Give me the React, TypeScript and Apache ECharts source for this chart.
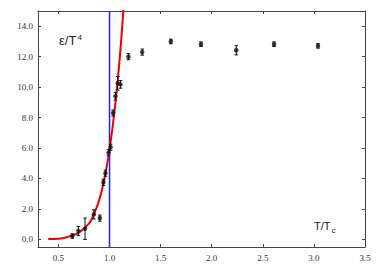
import React, { useEffect, useRef } from "react";
import * as echarts from "echarts";

const xTicks = [0.5, 1.0, 1.5, 2.0, 2.5, 3.0, 3.5];
const yTicks = [0, 2, 4, 6, 8, 10, 12, 14];

const tValues = [0.636, 0.695, 0.76, 0.846, 0.905, 0.94, 0.96, 0.99, 1.01, 1.035, 1.058, 1.08, 1.107, 1.185, 1.32, 1.6, 1.895, 2.24, 2.61, 3.04];
const eValues = [0.22, 0.55, 0.7, 1.64, 1.4, 3.75, 4.35, 5.7, 6.05, 8.3, 9.4, 10.25, 10.18, 12.0, 12.3, 13.0, 12.82, 12.42, 12.82, 12.71];
const eErrors = [0.15, 0.3, 0.7, 0.3, 0.2, 0.2, 0.2, 0.2, 0.2, 0.2, 0.25, 0.45, 0.25, 0.2, 0.2, 0.15, 0.15, 0.3, 0.15, 0.15];

const curveT = [0.4, 0.5, 0.6, 0.7, 0.8, 0.85, 0.9, 0.95, 1.0, 1.05, 1.1, 1.15];
const curveE = [0.02, 0.04, 0.18, 0.44, 1.05, 1.7, 2.6, 4.0, 5.9, 8.5, 11.9, 16.5];

const tc = [1.0];

export default function App() {
  const ref = useRef<HTMLDivElement>(null);
  useEffect(() => {
    const chart = echarts.init(ref.current!, null, { renderer: "svg" });
    const axisCol = "#444";
    const serif = "'Liberation Serif', 'Times New Roman', serif";
    const labelStyle = { fontFamily: serif, fontSize: 9, color: "#333" };
    const points = tValues.map((t, i) => [t, eValues[i]]);
    const errData = tValues.map((t, i) => [t, eValues[i] - eErrors[i], eValues[i] + eErrors[i]]);
    chart.setOption({
      animation: false,
      grid: { left: 38, right: 17, top: 11, bottom: 20 },
      xAxis: [
        {
          type: "value", min: 0.3, max: 3.5, position: "bottom",
          axisLine: { onZero: false, lineStyle: { color: axisCol, width: 1 } },
          axisTick: { inside: true, length: 3, customValues: xTicks, lineStyle: { color: axisCol } },
          axisLabel: { ...labelStyle, margin: 6, customValues: xTicks, formatter: (v: number) => v.toFixed(1), showMaxLabel: true },
          splitLine: { show: false },
        },
        {
          type: "value", min: 0.3, max: 3.5, position: "top",
          axisLine: { onZero: false, lineStyle: { color: axisCol, width: 1 } },
          axisTick: { inside: true, length: 3, customValues: xTicks, lineStyle: { color: axisCol } },
          axisLabel: { show: false },
          splitLine: { show: false },
        },
      ],
      yAxis: [
        {
          type: "value", min: -0.5, max: 15, position: "left",
          axisLine: { show: true, onZero: false, lineStyle: { color: axisCol, width: 1 } },
          axisTick: { show: true, inside: true, length: 3, customValues: yTicks, lineStyle: { color: axisCol } },
          axisLabel: { ...labelStyle, margin: 5, customValues: yTicks, formatter: (v: number) => v.toFixed(1) },
          splitLine: { show: false },
        },
        {
          type: "value", min: -0.5, max: 15, position: "right",
          axisLine: { show: true, onZero: false, lineStyle: { color: axisCol, width: 1 } },
          axisTick: { show: true, inside: true, length: 3, customValues: yTicks, lineStyle: { color: axisCol } },
          axisLabel: { show: false },
          splitLine: { show: false },
        },
      ],
      series: [
        {
          type: "custom",
          data: [[tc[0], -0.5, 15]],
          z: 1,
          silent: true,
          renderItem: (params: any, api: any) => {
            const x = api.value(0);
            const lo = api.coord([x, api.value(1)]);
            const hi = api.coord([x, api.value(2)]);
            return { type: "line", shape: { x1: lo[0], y1: lo[1], x2: hi[0], y2: hi[1] }, style: { stroke: "#1f1fff", lineWidth: 1.5 } };
          },
        },
        {
          type: "line",
          data: curveT.map((t, i) => [t, curveE[i]]),
          smooth: 0.4,
          symbol: "none",
          clip: true,
          lineStyle: { color: "#ee0000", width: 2 },
          emphasis: { disabled: true },
          z: 2,
        },
        {
          type: "custom",
          data: errData,
          z: 3,
          silent: true,
          renderItem: (params: any, api: any) => {
            const x = api.value(0);
            const lo = api.coord([x, api.value(1)]);
            const hi = api.coord([x, api.value(2)]);
            const c = 1.8;
            const st = { stroke: "#111", lineWidth: 1 };
            return {
              type: "group",
              children: [
                { type: "line", shape: { x1: lo[0], y1: lo[1], x2: hi[0], y2: hi[1] }, style: st },
                { type: "line", shape: { x1: lo[0] - c, y1: lo[1], x2: lo[0] + c, y2: lo[1] }, style: st },
                { type: "line", shape: { x1: hi[0] - c, y1: hi[1], x2: hi[0] + c, y2: hi[1] }, style: st },
              ],
            };
          },
        },
        {
          type: "scatter",
          data: points,
          symbol: "circle",
          symbolSize: 4.5,
          itemStyle: { color: "#111" },
          emphasis: { disabled: true },
          z: 4,
        },
      ],
      graphic: [
        { type: "text", x: 59, y: 47, style: { text: "ε/T", fontFamily: "Liberation Sans", fontSize: 13, fill: "#222", textVerticalAlign: "bottom" } },
        { type: "text", x: 77.5, y: 41, style: { text: "4", fontFamily: "Liberation Sans", fontSize: 8, fill: "#222", textVerticalAlign: "bottom" } },
        { type: "text", x: 314, y: 231, style: { text: "T/T", fontFamily: "Liberation Sans", fontSize: 11, fill: "#222", textVerticalAlign: "bottom" } },
        { type: "text", x: 331.5, y: 234, style: { text: "c", fontFamily: "Liberation Sans", fontSize: 8, fill: "#222", textVerticalAlign: "bottom" } },
      ],
    });
    return () => chart.dispose();
  }, []);
  return <div ref={ref} style={{ width: 382, height: 267, position: "absolute", left: 0, top: 0 }} />;
}
